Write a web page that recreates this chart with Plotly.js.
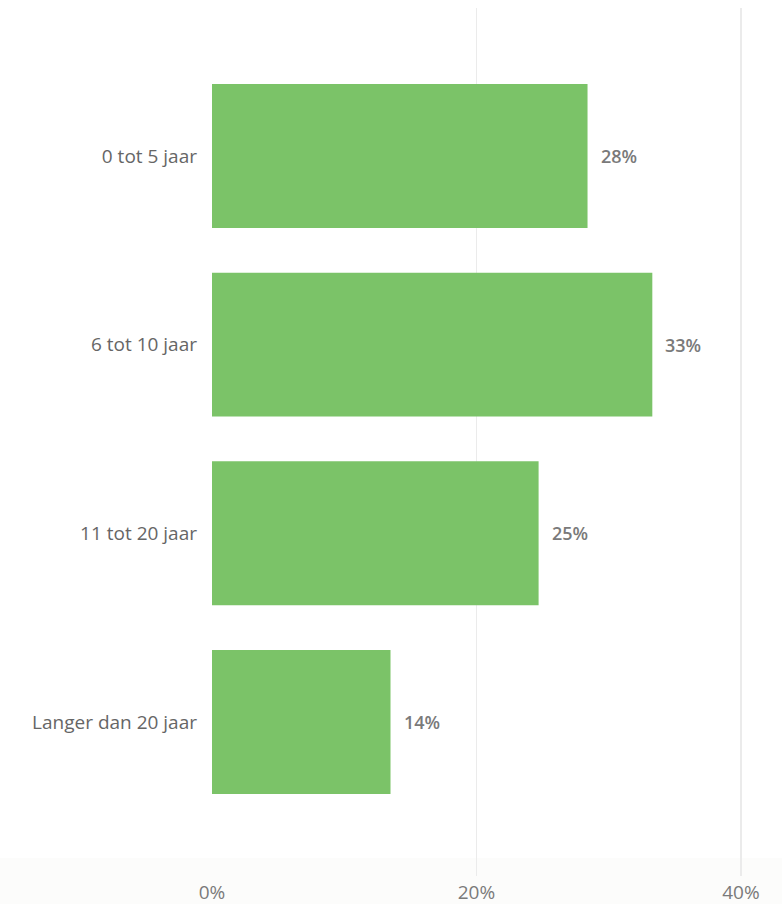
<!DOCTYPE html>
<html>
<head>
<meta charset="utf-8">
<script src="https://cdn.plot.ly/plotly-3.0.1.min.js"></script>
<style>html,body{margin:0;padding:0;background:#fff;}#chart{width:782px;height:904px;}</style>
</head>
<body>
<div id="chart"></div>
<script>
const categories = ["0 tot 5 jaar", "6 tot 10 jaar", "11 tot 20 jaar", "Langer dan 20 jaar"];
const values = [28.4, 33.3, 24.7, 13.5];
const valueLabels = ["28%", "33%", "25%", "14%"];
const xTickVals = [0, 20, 40];
const xTickText = ["0%", "20%", "40%"];

const trace = {
  type: "bar",
  orientation: "h",
  y: categories,
  x: values,
  marker: {color: "#7bc368"},
  hoverinfo: "none"
};

const annotations = categories.map((c, i) => ({
  x: values[i], y: c, xref: "x", yref: "y",
  text: valueLabels[i], showarrow: false,
  xanchor: "left", xshift: 11,
  font: {family: "'Open Sans', sans-serif", size: 18, weight: 600, color: "#7a7a7a"}
}));

const layout = {
  width: 782, height: 904,
  margin: {l: 212, r: 12, t: 8, b: 28},
  paper_bgcolor: "#ffffff",
  plot_bgcolor: "rgba(0,0,0,0)",
  bargap: 0.237,
  showlegend: false,
  xaxis: {
    range: [0, 42.2],
    tickvals: xTickVals, ticktext: xTickText,
    showgrid: true, gridcolor: "#ebebeb", gridwidth: 1.5,
    zeroline: false, showline: false,
    ticklabelstandoff: 3,
    tickfont: {family: "'Open Sans', 'Noto Sans', sans-serif", size: 19, color: "#7a7a7a"},
    ticks: "", fixedrange: true
  },
  yaxis: {
    type: "category",
    range: [3.816, -0.784],
    showgrid: false, zeroline: false, showline: false,
    ticklabelstandoff: 14,
    tickfont: {family: "'Open Sans', 'Noto Sans', sans-serif", size: 19, color: "#666666"},
    ticks: "", fixedrange: true
  },
  annotations: annotations,
  shapes: [{
    type: "rect", xref: "paper", yref: "paper", layer: "below",
    x0: -212/558, x1: 1 + 12/558, y0: -28/868, y1: 18/868,
    fillcolor: "#fcfcfb", line: {width: 0}
  }]
};

Plotly.newPlot("chart", [trace], layout, {displayModeBar: false, staticPlot: true});
</script>
</body>
</html>
